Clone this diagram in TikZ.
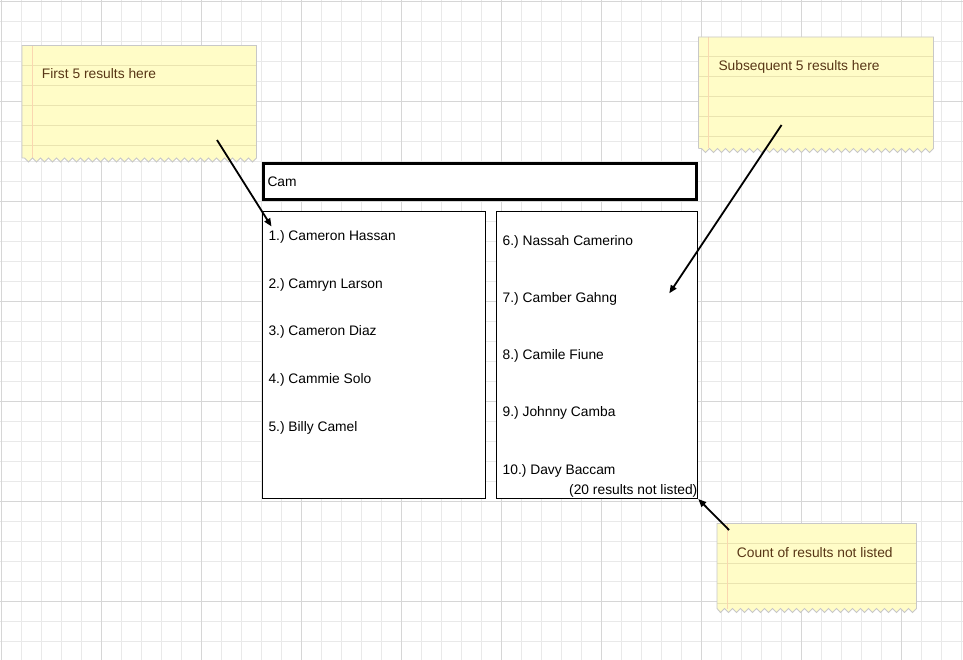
\documentclass[tikz,border=0pt]{standalone}
\usepackage{fontspec}
\setmainfont{Liberation Sans}
\usetikzlibrary{arrows.meta}
\frenchspacing
\definecolor{gridminor}{RGB}{233,233,233}
\definecolor{gridmajor}{RGB}{214,214,214}
\definecolor{notefill}{RGB}{255,252,199}
\definecolor{noterule}{RGB}{234,228,176}
\definecolor{notemargin}{RGB}{250,214,176}
\definecolor{noteedge}{RGB}{200,200,200}
\definecolor{notetext}{RGB}{88,54,22}
\newcommand\mynote[5]{%
  \pgfmathtruncatemacro\nteeth{floor((#3-#1)/4)}%
  \fill[notefill] (#1,#2) -- (#3,#2) -- (#3,#4)
    \foreach \k in {1,...,\nteeth} { -- ({#3-4*\k},{#4+4*mod(\k,2)}) } -- (#1,#4) -- cycle;
  \foreach \j in {1,...,#5} \draw[noterule,line width=1pt] (#1,{#2+20*\j}) -- (#3,{#2+20*\j});
  \draw[notemargin,line width=1pt] ({#1+10},#2) -- ({#1+10},#4);
  \draw[noteedge,line width=0.9pt] (#1,#4) -- (#1,#2) -- (#3,#2) -- (#3,#4)
    \foreach \k in {1,...,\nteeth} { -- ({#3-4*\k},{#4+4*mod(\k,2)}) } -- (#1,#4);
}
\begin{document}
\begin{tikzpicture}[x=1pt,y=-1pt,
  notelabel/.style={anchor=base west,inner sep=0pt,text=notetext,font=\fontsize{13.8}{16}\selectfont},
  entry/.style={anchor=base west,inner sep=0pt,text=black,font=\fontsize{13.8}{16}\selectfont},
  listbox/.style={draw=black,fill=white,line width=1pt,inner sep=0pt,minimum height=286.5pt},
  searchbox/.style={draw=black,fill=white,line width=3pt,inner sep=0pt,minimum width=433pt,minimum height=36pt},
  pointer/.style={draw=black,line width=1.8pt,-{Triangle[length=8pt,width=6.5pt]}}
]
\useasboundingbox (0,0) rectangle (963,660);
\fill[white] (0,0) rectangle (963,660);
\foreach \i in {0,...,48} \draw[gridminor,line width=1pt] ({1.2+20*\i},0) -- ({1.2+20*\i},660);
\foreach \i in {0,...,33} \draw[gridminor,line width=1pt] (0,{1.2+20*\i}) -- (963,{1.2+20*\i});
\foreach \i in {0,...,9} \draw[gridmajor,line width=1pt] ({1.2+100*\i},0) -- ({1.2+100*\i},660);
\foreach \i in {0,...,6} \draw[gridmajor,line width=1pt] (0,{1.2+100*\i}) -- (963,{1.2+100*\i});

% sticky notes
\mynote{22}{45.5}{256.5}{158}{5}
\mynote{698.5}{37}{933.5}{148.5}{5}
\mynote{717}{523.5}{916.5}{608.5}{4}
\node[notelabel] (n1) at (41.7,79) {First 5 results here};
\node[notelabel] (n2) at (718.3,70.7) {Subsequent 5 results here};
\node[notelabel] (n3) at (736.7,557.7) {Count of results not listed};

% search box and lists
\node[searchbox] (search) at (480,181.5) {};
\node[entry] (query) at (267.3,186.7) {Cam};
\node[listbox,minimum width=223pt] (left) at (374,354.75) {};
\node[listbox,minimum width=201pt] (right) at (597,354.75) {};

\node[entry] (e1) at (268.3,240.7) {1.) Cameron Hassan};
\node[entry] (e2) at (268.3,288.3) {2.) Camryn Larson};
\node[entry] (e3) at (268.3,335.9) {3.) Cameron Diaz};
\node[entry] (e4) at (268.3,383.5) {4.) Cammie Solo};
\node[entry] (e5) at (268.3,431.1) {5.) Billy Camel};
\node[entry] (e6) at (502.5,245.2) {6.) Nassah Camerino};
\node[entry] (e7) at (502.5,302.4) {7.) Camber Gahng};
\node[entry] (e8) at (502.5,359.6) {8.) Camile Fiune};
\node[entry] (e9) at (502.5,416.8) {9.) Johnny Camba};
\node[entry] (e10) at (502.5,474) {10.) Davy Baccam};
\node[entry,anchor=base east] (count) at (697.5,494.3) {(20 results not listed)};

% pointers
\coordinate (a1s) at (217,140);
\coordinate (a1t) at (271.5,226.5);
\coordinate (a2s) at (781.5,125);
\coordinate (a2t) at (669.3,293.3);
\coordinate (a3s) at (729,530);
\coordinate (a3t) at (698.3,499);
\draw[pointer] (a1s) -- (a1t);
\draw[pointer] (a2s) -- (a2t);
\draw[pointer] (a3s) -- (a3t);
\end{tikzpicture}
\end{document}
